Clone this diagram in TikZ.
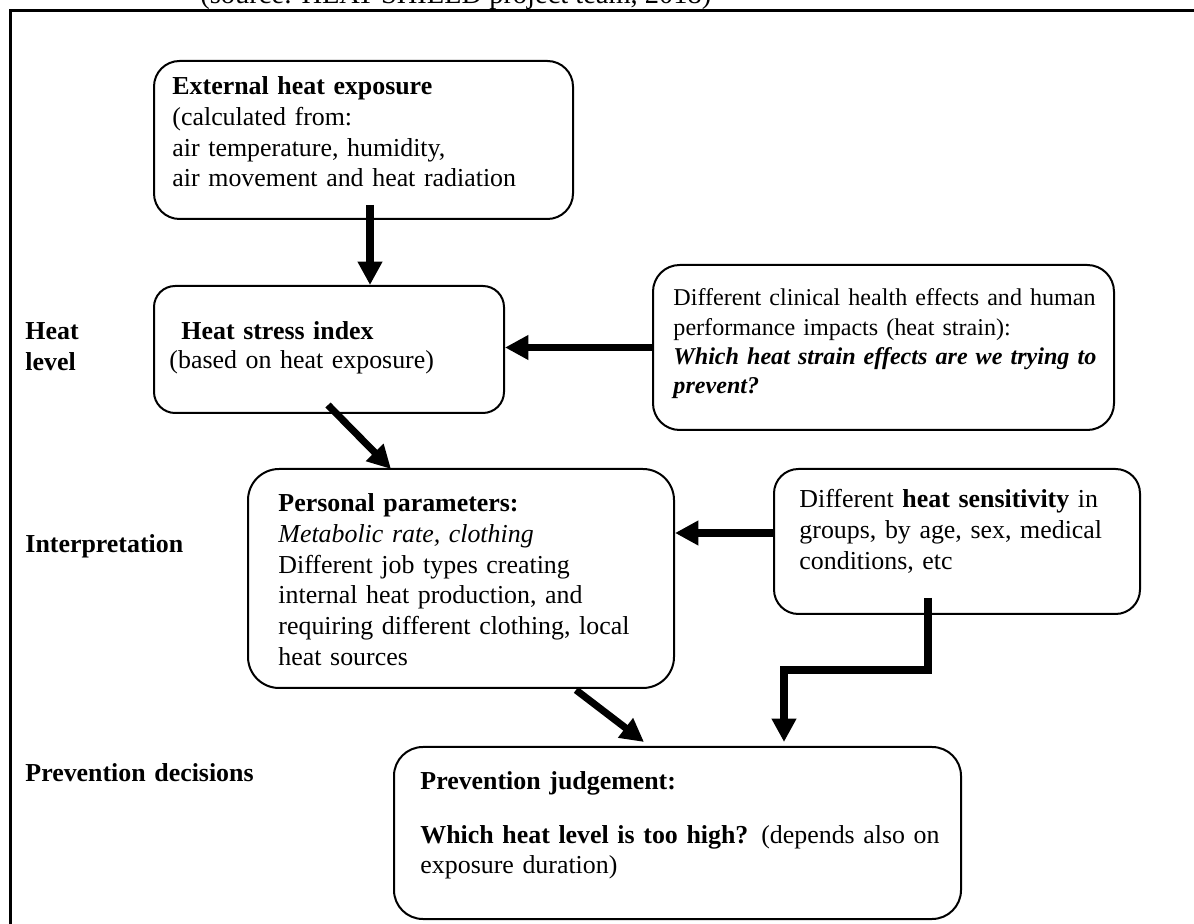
\documentclass[tikz,border=0pt,12pt]{standalone}
\usepackage{fontspec}
\setmainfont{Liberation Serif}
\usetikzlibrary{positioning, arrows.meta, calc}
\newcommand{\unitpx}{0.45pt}

\begin{document}
\fontsize{11.65}{13.8}\selectfont
\begin{tikzpicture}[x=0.45pt, y=-0.45pt,
    stepbox/.style={draw, line width=0.9pt, rounded corners=#1, anchor=north west, inner sep=0pt},
    boxtext/.style={anchor=base west, inner sep=0pt, align=left, text width=#1},
    sidelabel/.style={anchor=base west, inner sep=0pt, align=left, text width=150pt, font=\bfseries},
    bigarrow/.style={line width=3.2pt, -{Triangle[width=10.5pt, length=10.5pt]}}]
    % page frame, cut off at the top and right
    \path[use as bounding box, clip] (0,0) rectangle (1194,924);
    \draw[line width=1.35pt] (10,960) -- (10,10.5) -- (1220,10.5);
    \node[anchor=base west, inner sep=0pt, font=\fontsize{12.8}{14}\selectfont] (source) at (200,3.5) {(source: HEAT-SHIELD project team, 2018)};

    % Row labels
    \node[sidelabel] (heatlevel) at (25,340) {Heat\\level};
    \node[sidelabel] (interp) at (25,553) {Interpretation};
    \node[sidelabel] (prevdec) at (25,782) {Prevention decisions};

    % Boxes
    \node[stepbox=11.5pt, minimum width=419*\unitpx, minimum height=158*\unitpx] (exposure) at (153,60) {};
    \node[boxtext=300pt] (exposure-txt) at (172,95) {\textbf{External heat exposure}\\ (calculated from:\\ air temperature, humidity,\\ air movement and heat radiation};

    \node[stepbox=9.5pt, minimum width=350*\unitpx, minimum height=127*\unitpx] (stress) at (153,285) {};
    \node[boxtext=300pt] (stress-txt) at (169,340) {\hspace*{5.4pt}\textbf{Heat stress index}\\[-0.75pt] (based on heat exposure)};

    \node[stepbox=12pt, minimum width=461*\unitpx, minimum height=165*\unitpx] (strain) at (652,264) {};
    \node[boxtext=300pt, font=\fontsize{10.85}{13.15}\selectfont] (strain-txt) at (673,306) {Different clinical health effects and human\\ performance impacts (heat strain):\\ \textbf{\textit{Which heat strain effects are we trying to}}\\ \textbf{\textit{prevent?}}};

    \node[stepbox=14pt, minimum width=426*\unitpx, minimum height=219*\unitpx] (personal) at (247,468) {};
    \node[boxtext=300pt] (personal-txt) at (278,512) {\textbf{Personal parameters:}\\ \textit{Metabolic rate, clothing}\\ Different job types creating\\ internal heat production, and\\ requiring different clothing, local\\ heat sources};

    \node[stepbox=11pt, minimum width=366*\unitpx, minimum height=145*\unitpx] (sensitivity) at (773,468) {};
    \node[boxtext=300pt] (sensitivity-txt) at (799,508) {Different \textbf{heat sensitivity} in\\ groups, by age, sex, medical\\ conditions, etc};

    \node[stepbox=13pt, minimum width=567*\unitpx, minimum height=172*\unitpx] (judgement) at (393,746) {};
    \node[boxtext=300pt] (judgement-txt) at (420,790) {\textbf{Prevention judgement:}\\[10.3pt] \textbf{Which heat level is too high?} (depends also on\\[-0.5pt] exposure duration)};

    % Arrows
    \coordinate (a1) at ($(exposure.south)+(6.5,-15)$);
    \draw[bigarrow] (a1) -- (a1 |- stress.north);
    \draw[bigarrow] (strain.west) -- (strain.west -| stress.east);
    \draw[bigarrow] ($(stress.south)+(-1,-9)$) -- ($(personal.north)+(-70,1)$);
    \coordinate (a4) at ($(sensitivity.west)+(0,-8.5)$);
    \draw[bigarrow] (a4) -- (a4 -| personal.east);
    \coordinate (a5) at ($(sensitivity.south)+(-29,-17)$);
    \coordinate (a5end) at ($(judgement.north)+(106.5,-4)$);
    \draw[bigarrow] (a5) -- ++(0,72) -| (a5end);
    \draw[bigarrow] ($(personal.south)+(115,1)$) -- ($(judgement.north)+(-33.5,-4)$);
\end{tikzpicture}
\end{document}
